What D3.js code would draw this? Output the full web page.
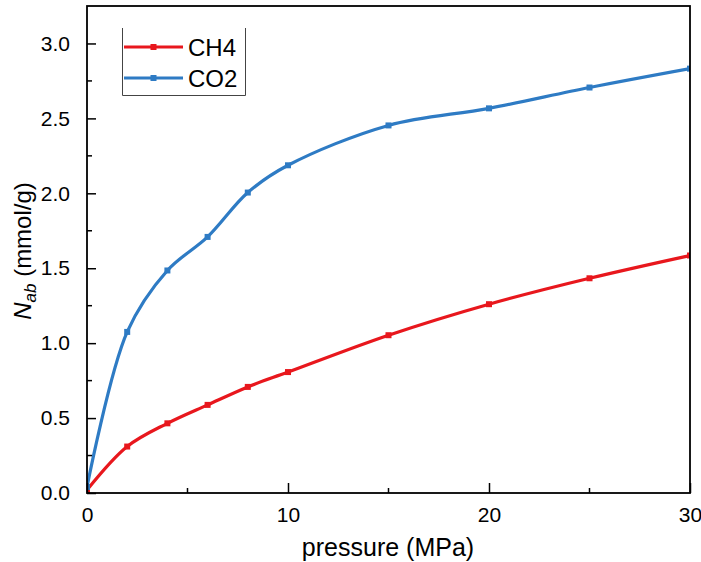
<!DOCTYPE html>
<html><head><meta charset="utf-8">
<script src="https://cdn.jsdelivr.net/npm/d3@7"></script>
<style>
html,body{margin:0;padding:0;background:#fff;}
svg{display:block;font-family:"Liberation Sans",Arial,sans-serif;}
</style></head>
<body>
<svg id="chart" width="701" height="562"></svg>
<script>
const pressure = [0, 2, 4, 6, 8, 10, 15, 20, 25, 30];
const ch4 = [0.02, 0.31, 0.465, 0.588, 0.708, 0.807, 1.053, 1.26, 1.433, 1.585];
const co2 = [0.04, 1.075, 1.485, 1.709, 2.005, 2.187, 2.453, 2.567, 2.706, 2.832];
const seriesNames = ["CH4", "CO2"];
const seriesColors = ["#e8171d", "#2e7bc4"];
const xTicks = [0, 10, 20, 30];
const xMinor = [5, 15, 25];
const yTicks = [0, 0.5, 1.0, 1.5, 2.0, 2.5, 3.0];
const yMinor = [0.25, 0.75, 1.25, 1.75, 2.25, 2.75];

const W = 701, H = 562;
const m = {left: 87, top: 6, right: 11, bottom: 69};
const iw = W - m.left - m.right, ih = H - m.top - m.bottom;
const svg = d3.select("#chart");
const g = svg.append("g").attr("transform", `translate(${m.left},${m.top})`);

const x = d3.scaleLinear().domain([0, 30]).range([0, iw]);
const y = d3.scaleLinear().domain([0, 3.25]).range([ih, 0]);

// lines
const series = [ch4, co2];
const line = d3.line().x(d => x(d[0])).y(d => y(d[1])).curve(d3.curveCatmullRom.alpha(0.5));
svg.append("defs").append("clipPath").attr("id","clip")
  .append("rect").attr("width", iw).attr("height", ih);
series.forEach((vals, i) => {
  const pts = pressure.map((p, j) => [p, vals[j]]);
  const sg = g.append("g").attr("clip-path","url(#clip)");
  sg.append("path").datum(pts).attr("d", line)
    .attr("fill","none").attr("stroke", seriesColors[i]).attr("stroke-width", 3.2)
    .attr("stroke-linejoin","round");
  sg.selectAll("rect.m").data(pts).enter().append("rect")
    .attr("x", d => x(d[0]) - 3).attr("y", d => y(d[1]) - 3)
    .attr("width", 6).attr("height", 6).attr("fill", seriesColors[i]);
});

// axes (ticks inward)
const xAxis = d3.axisBottom(x).tickValues(xTicks).tickFormat(d3.format("d")).tickSizeInner(-10).tickSizeOuter(0).tickPadding(14);
const gx = g.append("g").attr("transform", `translate(0,${ih})`).call(xAxis);
gx.selectAll(".tick line").attr("stroke-width", 1.5);
gx.selectAll("text").attr("font-size", 21).attr("fill","#000");
gx.select(".domain").remove();
g.append("g").selectAll("line").data(xMinor).enter().append("line")
  .attr("x1", d => x(d)).attr("x2", d => x(d)).attr("y1", ih).attr("y2", ih - 5)
  .attr("stroke","#000").attr("stroke-width",1.5);

const yAxis = d3.axisLeft(y).tickValues(yTicks).tickFormat(d3.format(".1f")).tickSizeInner(-9).tickSizeOuter(0).tickPadding(17);
const gy = g.append("g").call(yAxis);
gy.selectAll(".tick line").attr("stroke-width", 1.5);
gy.selectAll("text").attr("font-size", 21).attr("fill","#000");
gy.select(".domain").remove();
g.append("g").selectAll("line").data(yMinor).enter().append("line")
  .attr("x1", 0).attr("x2", 5).attr("y1", d => y(d)).attr("y2", d => y(d))
  .attr("stroke","#000").attr("stroke-width",1.5);

// frame
g.append("rect").attr("width", iw).attr("height", ih)
  .attr("fill","none").attr("stroke","#000").attr("stroke-width",1.8);

// axis labels
svg.append("text").attr("x", 388).attr("y", 556).attr("text-anchor","middle")
  .attr("font-size", 25).text("pressure (MPa)");
const yl = svg.append("text").attr("transform","translate(31,251) rotate(-90)")
  .attr("text-anchor","middle").attr("font-size", 24);
yl.append("tspan").attr("font-style","italic").text("N");
yl.append("tspan").attr("font-style","italic").attr("font-size", 17).attr("dy", 5).text("ab");
yl.append("tspan").attr("dy", -5).text(" (mmol/g)");

// legend
const lg = svg.append("g");
lg.append("path").attr("d","M122.5,28 V95.5 H245.5 V28").attr("fill","none")
  .attr("stroke","#444").attr("stroke-width",1);
seriesNames.forEach((n, i) => {
  const ly = 47 + i * 31;
  lg.append("line").attr("x1",124).attr("x2",183).attr("y1",ly).attr("y2",ly)
    .attr("stroke", seriesColors[i]).attr("stroke-width",3.2);
  lg.append("rect").attr("x",150.5).attr("y",ly-3).attr("width",6).attr("height",6).attr("fill",seriesColors[i]);
  lg.append("text").attr("x",188).attr("y",ly+8.5).attr("font-size",24).text(n);
});
</script>
</body></html>
